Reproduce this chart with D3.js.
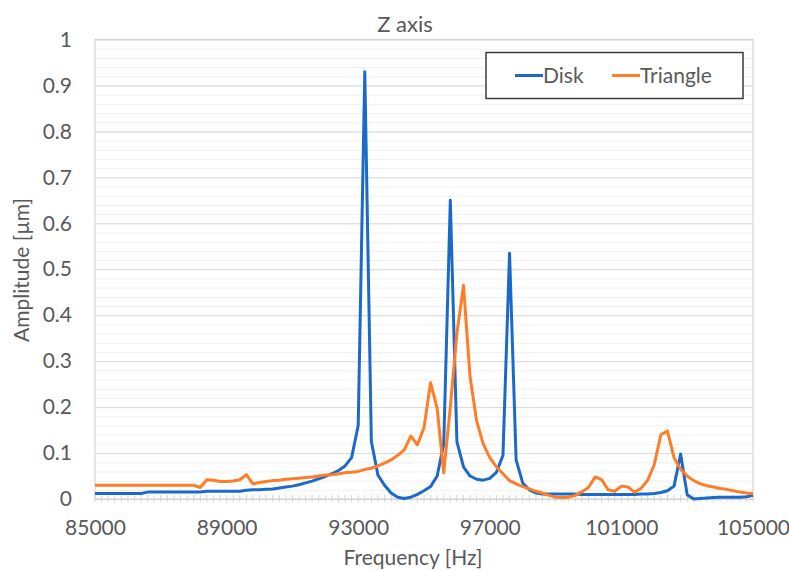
<!DOCTYPE html>
<html>
<head>
<meta charset="utf-8">
<script src="https://cdn.jsdelivr.net/npm/d3@7"></script>
<style>
  body { margin: 0; background: #fff; }
  text { font-family: Lato, "Open Sans", sans-serif; fill: #595959; }
</style>
</head>
<body>
<svg id="chart" width="789" height="571"></svg>
<script>
// categories: frequency steps of 200 Hz
const freqs = d3.range(85000, 105001, 200);

const disk = [
  0.012, 0.012, 0.012, 0.012, 0.012, 0.012, 0.012, 0.012, 0.015, 0.015,
  0.015, 0.015, 0.015, 0.015, 0.015, 0.015, 0.015, 0.017, 0.017, 0.017,
  0.017, 0.017, 0.017, 0.019, 0.020, 0.020, 0.021, 0.022, 0.024, 0.026,
  0.028, 0.031, 0.035, 0.039, 0.044, 0.049, 0.055, 0.062, 0.072, 0.090,
  0.160, 0.930, 0.125, 0.052, 0.030, 0.013, 0.004, 0.001, 0.004, 0.010,
  0.018, 0.027, 0.050, 0.120, 0.650, 0.125, 0.070, 0.050, 0.043, 0.041,
  0.045, 0.058, 0.095, 0.535, 0.085, 0.035, 0.020, 0.013, 0.011, 0.011,
  0.011, 0.011, 0.011, 0.011, 0.010, 0.010, 0.010, 0.010, 0.010, 0.010,
  0.010, 0.010, 0.010, 0.011, 0.011, 0.012, 0.014, 0.018, 0.028, 0.098,
  0.009, 0.000, 0.001, 0.002, 0.003, 0.004, 0.004, 0.004, 0.004, 0.005,
  0.008
];

const triangle = [
  0.030, 0.030, 0.030, 0.030, 0.030, 0.030, 0.030, 0.030, 0.030, 0.030,
  0.030, 0.030, 0.030, 0.030, 0.030, 0.030, 0.025, 0.042, 0.041, 0.038,
  0.038, 0.039, 0.042, 0.053, 0.033, 0.036, 0.038, 0.040, 0.041, 0.043,
  0.044, 0.045, 0.047, 0.048, 0.050, 0.052, 0.053, 0.055, 0.057, 0.058,
  0.060, 0.064, 0.067, 0.072, 0.078, 0.085, 0.095, 0.107, 0.137, 0.118,
  0.155, 0.253, 0.197, 0.057, 0.200, 0.360, 0.465, 0.266, 0.170, 0.120,
  0.090, 0.070, 0.055, 0.040, 0.033, 0.027, 0.022, 0.017, 0.013, 0.008,
  0.004, 0.003, 0.004, 0.008, 0.016, 0.025, 0.048, 0.042, 0.020, 0.017,
  0.028, 0.026, 0.015, 0.023, 0.041, 0.075, 0.140, 0.148, 0.090, 0.065,
  0.050, 0.040, 0.033, 0.029, 0.026, 0.023, 0.021, 0.018, 0.015, 0.013,
  0.012
];

const xTickValues = [85000, 89000, 93000, 97000, 101000, 105000];
const yTickValues = [0, 0.1, 0.2, 0.3, 0.4, 0.5, 0.6, 0.7, 0.8, 0.9, 1];
const seriesNames = ["Disk", "Triangle"];
const seriesColors = ["#1b6ac9", "#ff7d26"];

const svg = d3.select("#chart");
const plot = { left: 95, right: 753, top: 39.5, bottom: 499 };

const x = d3.scaleLinear().domain([85000, 105000]).range([plot.left, plot.right]);
const y = d3.scaleLinear().domain([0, 1]).range([plot.bottom, plot.top]);

// minor gridlines (every 0.02)
svg.append("g")
  .attr("transform", `translate(${plot.left},0)`)
  .call(d3.axisLeft(y).ticks(50).tickSize(-(plot.right - plot.left)).tickFormat(""))
  .call(g => g.select(".domain").remove())
  .call(g => g.selectAll("line").attr("stroke", "#efefef").attr("stroke-width", 1));

// major gridlines
svg.append("g")
  .attr("transform", `translate(${plot.left},0)`)
  .call(d3.axisLeft(y).tickValues(yTickValues).tickSize(-(plot.right - plot.left)).tickFormat(""))
  .call(g => g.select(".domain").remove())
  .call(g => g.selectAll("line").attr("stroke", "#d9d9d9").attr("stroke-width", 1));

// plot border
svg.append("rect")
  .attr("x", plot.left).attr("y", plot.top)
  .attr("width", plot.right - plot.left).attr("height", plot.bottom - plot.top)
  .attr("fill", "none").attr("stroke", "#d4d4d4").attr("stroke-width", 1.2);

// category ticks along the bottom
svg.append("g")
  .selectAll("line")
  .data(freqs)
  .join("line")
  .attr("x1", d => x(d)).attr("x2", d => x(d))
  .attr("y1", plot.bottom - 4).attr("y2", plot.bottom + 3)
  .attr("stroke", "#d4d4d4").attr("stroke-width", 1);

// y tick labels
svg.append("g")
  .attr("transform", `translate(${plot.left},0)`)
  .call(d3.axisLeft(y).tickValues(yTickValues).tickSize(0).tickPadding(23).tickFormat(d => d3.format("~g")(d)))
  .call(g => g.select(".domain").remove())
  .call(g => g.selectAll("text").style("font-size", "21px").attr("fill", "#595959")
    .style("font-family", "Lato, sans-serif"));

// x tick labels
svg.append("g")
  .attr("transform", `translate(0,${plot.bottom})`)
  .call(d3.axisBottom(x).tickValues(xTickValues).tickSize(0).tickPadding(21).tickFormat(d => d))
  .call(g => g.select(".domain").remove())
  .call(g => g.selectAll("text").style("font-size", "21px").attr("fill", "#595959")
    .style("font-family", "Lato, sans-serif"));

// lines
const line = d3.line()
  .x((d, i) => x(freqs[i]))
  .y(d => y(d));

[disk, triangle].forEach((s, k) => {
  svg.append("path")
    .datum(s)
    .attr("fill", "none")
    .attr("stroke", seriesColors[k])
    .attr("stroke-width", 3)
    .attr("stroke-linejoin", "round")
    .attr("d", line);
});

// title
svg.append("text")
  .attr("x", 405).attr("y", 32)
  .attr("text-anchor", "middle")
  .style("font-size", "22px")
  .text("Z axis");

// axis titles
svg.append("text")
  .attr("x", 413).attr("y", 565)
  .attr("text-anchor", "middle")
  .style("font-size", "21px")
  .text("Frequency [Hz]");

svg.append("text")
  .attr("transform", "translate(29,270) rotate(-90)")
  .attr("text-anchor", "middle")
  .style("font-size", "21px")
  .text("Amplitude [µm]");

// legend
const legend = svg.append("g");
legend.append("rect")
  .attr("x", 486).attr("y", 52.5).attr("width", 257).attr("height", 46)
  .attr("fill", "#fff").attr("stroke", "#3b3b3b").attr("stroke-width", 1.5);

const legendX = [515, 612];
seriesNames.forEach((name, k) => {
  legend.append("line")
    .attr("x1", legendX[k]).attr("x2", legendX[k] + 28)
    .attr("y1", 75.5).attr("y2", 75.5)
    .attr("stroke", seriesColors[k]).attr("stroke-width", 3);
  legend.append("text")
    .attr("x", legendX[k] + 28).attr("y", 83)
    .style("font-size", "21px")
    .text(name);
});
</script>
</body>
</html>
